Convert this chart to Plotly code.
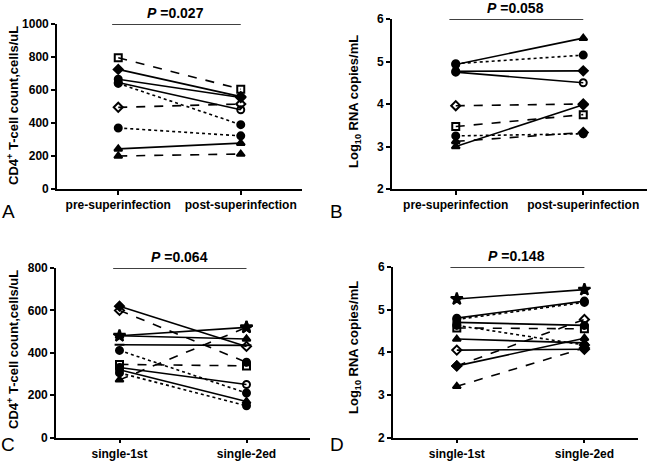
import plotly.graph_objects as go
from plotly.subplots import make_subplots

# panel A: CD4 count, pre vs post superinfection
pre_A = [795, 725, 665, 645, 640, 495, 370, 243, 200]
post_A = [605, 560, 555, 480, 390, 515, 322, 278, 212]
# panel B: viral load, pre vs post superinfection
pre_B = [4.93, 4.95, 4.77, 4.75, 3.96, 3.47, 3.25, 3.12, 3.00]
post_B = [5.55, 5.15, 4.78, 4.50, 4.00, 3.75, 3.30, 3.33, 3.98]
# panel C: CD4 count, single infection 1st vs 2nd
pre_C = [620, 600, 480, 480, 438, 411, 345, 330, 320, 305, 272]
post_C = [430, 355, 520, 465, 435, 210, 338, 250, 170, 150, 520]
# panel D: viral load, single infection 1st vs 2nd
pre_D = [5.25, 4.80, 4.77, 4.70, 4.57, 4.63, 4.31, 4.05, 3.68, 3.68, 3.20]
post_D = [5.47, 5.20, 5.17, 4.63, 4.55, 4.17, 4.22, 4.07, 4.77, 4.33, 4.10]

labels_top = ["pre-superinfection", "post-superinfection"]
labels_bot = ["single-1st", "single-2ed"]
p_values = ["0.027", "0.058", "0.064", "0.148"]

# line styles / markers (pre, post) for every subject
style_A = [("dash", "square-open", "square-open"), ("solid", "diamond", "diamond"),
           ("solid", "circle", "diamond"), ("solid", "circle", "circle-open"),
           ("dot", "circle", "circle"), ("dash", "diamond-open", "diamond-open"),
           ("dot", "circle", "circle"), ("solid", "triangle-up", "triangle-up"),
           ("dash", "triangle-up", "triangle-up")]
style_B = [("solid", "circle", "triangle-up"), ("dot", "circle", "circle"),
           ("solid", "circle", "diamond"), ("solid", "circle", "circle-open"),
           ("dash", "diamond-open", "diamond"), ("dash", "square-open", "square-open"),
           ("dot", "circle", "circle"), ("dash", "triangle-up", "diamond"),
           ("solid", "triangle-up", "diamond")]
style_C = [("solid", "diamond", "diamond-open"), ("dash", "diamond-open", "circle"),
           ("solid", "star", "star"), ("solid", "triangle-up", "triangle-up"),
           ("solid", "line-ew", "line-ew"), ("dot", "circle", "circle"),
           ("dash", "square-open", "square-open"), ("solid", "circle", "circle-open"),
           ("solid", "circle", "triangle-up"), ("dot", "circle", "circle"),
           ("dash", "triangle-up", "star")]
style_D = [("solid", "star", "star"), ("solid", "circle", "circle"),
           ("dot", "circle", "circle"), ("solid", "circle", "circle"),
           ("dash", "square-open", "square-open"), ("dot", "circle", "diamond"),
           ("solid", "triangle-up", "triangle-up"), ("solid", "diamond-open", "diamond"),
           ("dash", "diamond", "diamond-open"), ("solid", "diamond", "triangle-up"),
           ("dash", "triangle-up", "diamond")]

fig = make_subplots(rows=2, cols=2)

def msize(sym):
    if sym == "star":
        return 9
    return 7

panels = [(pre_A, post_A, style_A, 1, 1), (pre_B, post_B, style_B, 1, 2),
          (pre_C, post_C, style_C, 2, 1), (pre_D, post_D, style_D, 2, 2)]
for pre, post, style, r, c in panels:
    for a, b, (dash, s1, s2) in zip(pre, post, style):
        fig.add_trace(go.Scatter(
            x=[0, 1], y=[a, b], mode="lines+markers",
            line=dict(color="black", width=1.6, dash=dash),
            marker=dict(symbol=[s1, s2], size=[msize(s1), msize(s2)], color="black",
                        opacity=1, line=dict(color="black", width=2)),
            showlegend=False), row=r, col=c)

W, H = 650, 461
def dx(a, b):
    return [a / W, b / W]
def dy(top, bottom):
    return [1 - bottom / H, 1 - top / H]

font = "Liberation Sans, Arial, sans-serif"
axis_common = dict(showline=True, linecolor="black", linewidth=1.6, ticks="outside",
                   ticklen=4, tickwidth=1.6, tickcolor="black", showgrid=False,
                   zeroline=False, automargin=False,
                   tickfont=dict(family=font, size=12, color="black", weight="bold"))

fig.update_layout(
    width=W, height=H, margin=dict(l=0, r=0, t=0, b=0, autoexpand=False),
    plot_bgcolor="white", paper_bgcolor="white",
    xaxis=dict(domain=dx(57, 302), range=[-0.5, 1.5], tickvals=[0, 1], ticktext=labels_top, **axis_common),
    yaxis=dict(domain=dy(24, 189), range=[0, 1000], dtick=200, **axis_common),
    xaxis2=dict(domain=dx(392, 647), range=[-0.5, 1.5], tickvals=[0, 1], ticktext=labels_top, **axis_common),
    yaxis2=dict(domain=dy(19, 189), range=[2, 6], dtick=1, **axis_common),
    xaxis3=dict(domain=dx(56, 310), range=[-0.5, 1.5], tickvals=[0, 1], ticktext=labels_bot, **axis_common),
    yaxis3=dict(domain=dy(268, 437.5), range=[0, 800], dtick=200, **axis_common),
    xaxis4=dict(domain=dx(393, 638), range=[-0.5, 1.42], tickvals=[0, 1], ticktext=labels_bot, **axis_common),
    yaxis4=dict(domain=dy(267, 437.5), range=[2, 6], dtick=1, **axis_common),
)

# significance bars and p-values
tops = [1000, 6, 800, 6]
refs = [("x", "y"), ("x2", "y2"), ("x3", "y3"), ("x4", "y4")]
for (xr, yr), top, p in zip(refs, tops, p_values):
    fig.add_shape(type="line", xref=xr, yref=yr, x0=-0.05, x1=1.0, y0=top, y1=top,
                  line=dict(color="black", width=1.6))
    fig.add_annotation(xref=xr, yref=yr, x=0.47, y=top, yshift=11, showarrow=False,
                       text="<b><i>P</i> =" + p + "</b>",
                       font=dict(family=font, size=14, color="black"))

titles = [(13, 106, "CD4<sup>+</sup> T-cell count,cells/uL"),
          (354, 102, "Log<sub>10</sub> RNA copies/mL"),
          (13, 350, "CD4<sup>+</sup> T-cell count,cells/uL"),
          (354, 348, "Log<sub>10</sub> RNA copies/mL")]
for x, y, t in titles:
    fig.add_annotation(xref="paper", yref="paper", x=x / W, y=1 - y / H, textangle=-90,
                       xanchor="center", yanchor="middle",
                       showarrow=False, text="<b>" + t + "</b>",
                       font=dict(family=font, size=13, color="black"))

letters = [(8, 211, "A"), (336, 211, "B"), (8, 444, "C"), (337, 444, "D")]
for x, y, t in letters:
    fig.add_annotation(xref="paper", yref="paper", x=x / W, y=1 - y / H, showarrow=False,
                       xanchor="center", yanchor="middle",
                       text=t, font=dict(family=font, size=19, color="black"))

# the page's default body margin would push the figure 8px off the window
fig.write_html("out.html", config={"displayModeBar": False},
               post_script="document.body.style.margin='0';")
